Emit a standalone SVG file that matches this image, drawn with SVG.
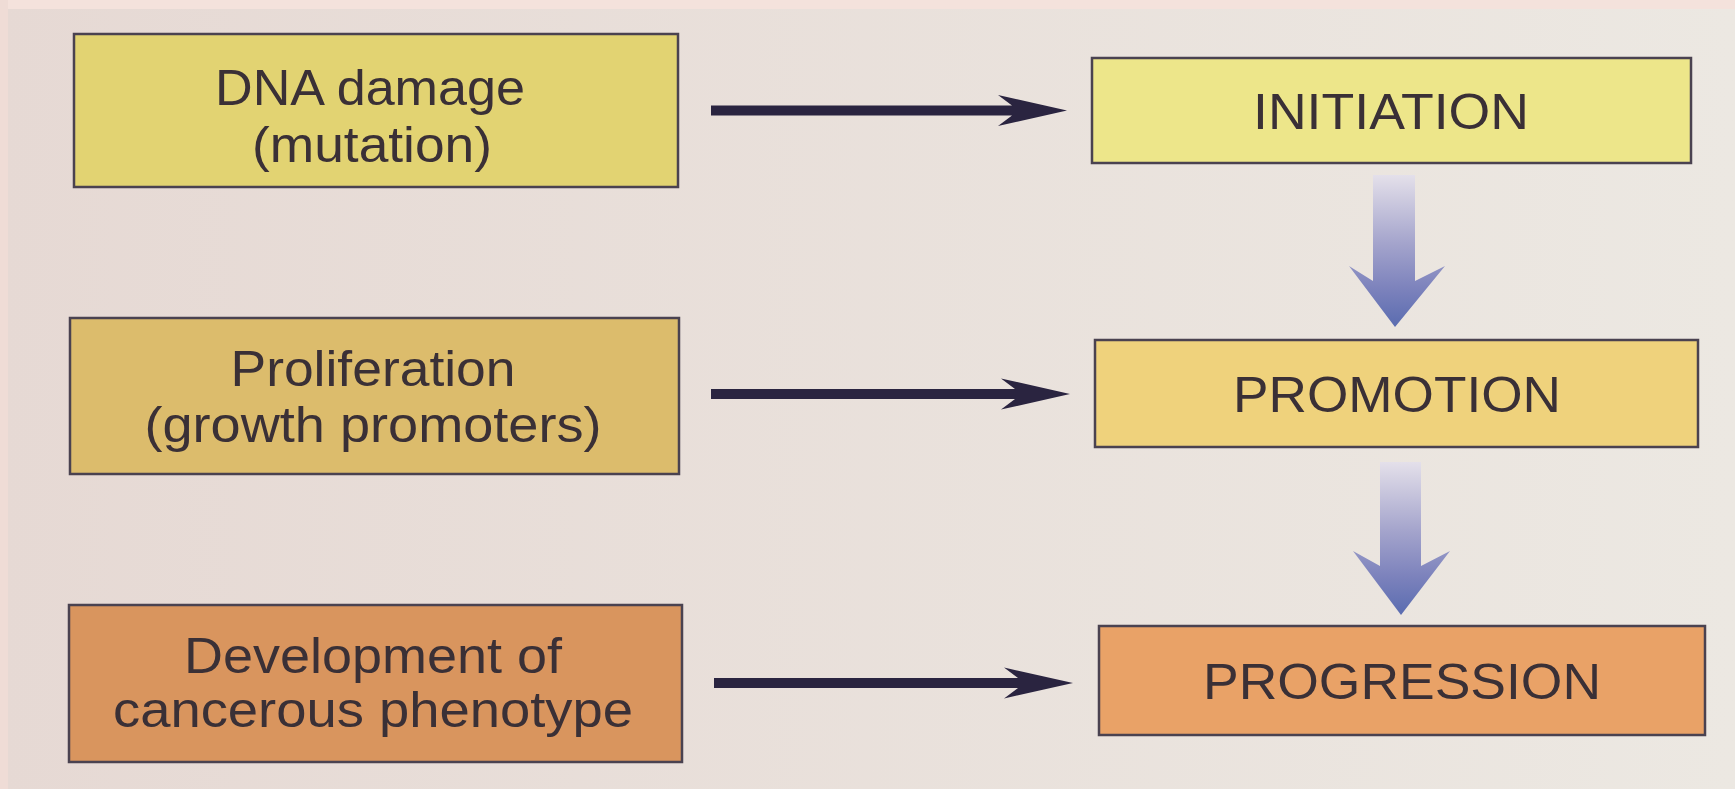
<svg xmlns="http://www.w3.org/2000/svg" width="1735" height="789" viewBox="0 0 1735 789">
<defs>
<style>
.box{stroke:#4a4250;stroke-width:2.5}
.t{font-family:"Liberation Sans",Arial,sans-serif;font-size:50px;fill:#3a3036;text-anchor:middle}
.blk{fill:#2a2440}
.blue{fill:url(#bg)}
</style>
<linearGradient id="page" x1="0" y1="0" x2="1" y2="0">
<stop offset="0" stop-color="#e6d9d4"/>
<stop offset="1" stop-color="#ece8e2"/>
</linearGradient>
<linearGradient id="bg" x1="0" y1="0" x2="0" y2="1">
<stop offset="0" stop-color="#e4e0ea"/>
<stop offset="0.45" stop-color="#a4a4cc"/>
<stop offset="0.75" stop-color="#7c82bc"/>
<stop offset="1" stop-color="#5a6cb0"/>
</linearGradient>
</defs>
<rect x="0" y="0" width="1735" height="789" fill="url(#page)"/>
<rect x="0" y="0" width="1735" height="9" fill="#f4e2dc"/>
<rect x="0" y="0" width="8" height="789" fill="#efdcd6"/>

<g id="connectors">
<path class="blk" d="M711,105.5 L1012,105.5 L998,95 L1067,110.5 L998,126 L1012,115.5 L711,115.5 Z"/>
<path class="blk" d="M711,389 L1015,389 L1001,378.5 L1070,394 L1001,409.5 L1015,399 L711,399 Z"/>
<path class="blk" d="M714,678 L1018,678 L1004,667.5 L1073,683 L1004,698.5 L1018,688 L714,688 Z"/>
<path class="blue" d="M1373,175 L1415,175 L1415,281 L1445,266 L1395,327 L1349,266 L1373,281 Z"/>
<path class="blue" d="M1380,462 L1421,462 L1421,566 L1450,551 L1401,615 L1353,551 L1380,566 Z"/>
</g>

<g id="dna-damage">
<rect class="box" x="74" y="34" width="604" height="153" fill="#e2d372"/>
<text class="t" x="370" y="105" textLength="310" lengthAdjust="spacingAndGlyphs">DNA damage</text>
<text class="t" x="372" y="162" textLength="240" lengthAdjust="spacingAndGlyphs">(mutation)</text>
</g>

<g id="initiation">
<rect class="box" x="1092" y="58" width="599" height="105" fill="#ede68a"/>
<text class="t" x="1391" y="129" textLength="276" lengthAdjust="spacingAndGlyphs">INITIATION</text>
</g>

<g id="proliferation">
<rect class="box" x="70" y="318" width="609" height="156" fill="#dcbc6c"/>
<text class="t" x="373" y="386" textLength="285" lengthAdjust="spacingAndGlyphs">Proliferation</text>
<text class="t" x="373" y="442" textLength="457" lengthAdjust="spacingAndGlyphs">(growth promoters)</text>
</g>

<g id="promotion">
<rect class="box" x="1095" y="340" width="603" height="107" fill="#efd27c"/>
<text class="t" x="1397" y="412" textLength="328" lengthAdjust="spacingAndGlyphs">PROMOTION</text>
</g>

<g id="development">
<rect class="box" x="69" y="605" width="613" height="157" fill="#d9955e"/>
<text class="t" x="373" y="673" textLength="378" lengthAdjust="spacingAndGlyphs">Development of</text>
<text class="t" x="373" y="727" textLength="520" lengthAdjust="spacingAndGlyphs">cancerous phenotype</text>
</g>

<g id="progression">
<rect class="box" x="1099" y="626" width="606" height="109" fill="#e9a267"/>
<text class="t" x="1402" y="699" textLength="398" lengthAdjust="spacingAndGlyphs">PROGRESSION</text>
</g>
</svg>
